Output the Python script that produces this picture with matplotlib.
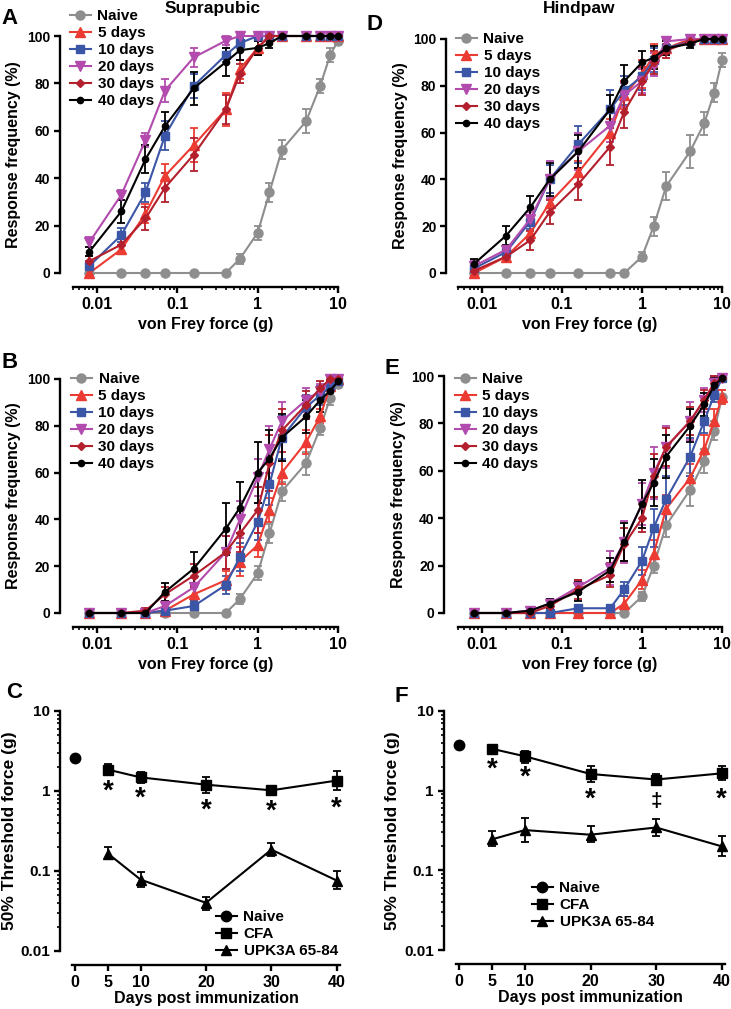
import numpy as np
import matplotlib
matplotlib.use('Agg')
import matplotlib.pyplot as plt
from matplotlib.ticker import NullFormatter, LogLocator, FixedLocator

plt.rcParams['font.family'] = ['Liberation Sans', 'DejaVu Sans']
plt.rcParams['font.weight'] = 'bold'
plt.rcParams['axes.labelweight'] = 'bold'

# von Frey filament forces (g)
force = [0.008, 0.02, 0.04, 0.07, 0.16, 0.4, 0.6, 1, 1.4, 2, 4, 6, 8, 10]
groups = ['Naive', '5 days', '10 days', '20 days', '30 days', '40 days']

# A - suprapubic, mean response frequency (%) and SEM
naive_A = [0, 0, 0, 0, 0, 0, 6, 17, 34, 52, 64, 79, 92, 98]
naive_A_err = [0, 0, 0, 0, 0, 0, 2, 3, 4, 4, 5, 3, 3, 2]
d5_A = [0, 10, 25, 41, 54, 69, 86, 95, 100, 100, 100, 100, 100, 100]
d5_A_err = [1, 2, 4, 5, 7, 7, 4, 3, 0, 0, 0, 0, 0, 0]
d10_A = [3, 16, 34, 58, 79, 92, 97, 100, 100, 100, 100, 100, 100, 100]
d10_A_err = [2, 3, 4, 6, 5, 3, 2, 0, 0, 0, 0, 0, 0, 0]
d20_A = [13, 33, 56, 77, 91, 98, 100, 100, 100, 100, 100, 100, 100, 100]
d20_A_err = [2, 2, 3, 5, 4, 2, 0, 0, 0, 0, 0, 0, 0, 0]
d30_A = [5, 12, 23, 36, 50, 69, 84, 95, 100, 100, 100, 100, 100, 100]
d30_A_err = [2, 3, 5, 6, 7, 6, 4, 3, 0, 0, 0, 0, 0, 0]
d40_A = [9, 26, 48, 62, 78, 89, 94, 95, 97, 100, 100, 100, 100, 100]
d40_A_err = [2, 5, 6, 6, 7, 6, 4, 3, 2, 0, 0, 0, 0, 0]

# D - hindpaw
naive_D = [0, 0, 0, 0, 0, 0, 0, 7, 20, 37, 52, 64, 77, 91]
naive_D_err = [0, 0, 0, 0, 0, 0, 0, 2, 4, 6, 7, 5, 4, 3]
d5_D = [0, 7, 17, 30, 43, 60, 76, 85, 93, 96, 100, 100, 100, 100]
d5_D_err = [1, 2, 3, 4, 5, 6, 6, 6, 5, 3, 1, 0, 0, 0]
d10_D = [2, 9, 22, 40, 55, 70, 78, 84, 91, 96, 99, 100, 100, 100]
d10_D_err = [2, 2, 3, 6, 8, 8, 6, 6, 5, 3, 1, 0, 0, 0]
d20_D = [3, 10, 23, 40, 52, 63, 76, 82, 89, 99, 100, 100, 100, 100]
d20_D_err = [2, 2, 3, 8, 8, 7, 5, 5, 5, 1, 0, 0, 0, 0]
d30_D = [1, 7, 14, 26, 38, 54, 69, 82, 90, 95, 99, 100, 100, 100]
d30_D_err = [1, 2, 4, 5, 7, 8, 7, 6, 5, 3, 1, 0, 0, 0]
d40_D = [4, 16, 28, 40, 52, 70, 82, 90, 92, 96, 98, 100, 100, 100]
d40_D_err = [2, 4, 5, 7, 7, 6, 7, 5, 5, 3, 2, 0, 0, 0]

# B - suprapubic
naive_B = [0, 0, 0, 0, 0, 0, 6, 17, 34, 52, 64, 79, 92, 98]
naive_B_err = [0, 0, 0, 0, 0, 0, 2, 3, 4, 4, 5, 3, 3, 2]
d5_B = [0, 0, 0, 1, 8, 14, 22, 29, 44, 60, 73, 84, 97, 100]
d5_B_err = [0, 0, 0, 1, 3, 4, 6, 5, 5, 5, 5, 3, 2, 0]
d10_B = [0, 0, 0, 1, 3, 12, 24, 39, 55, 75, 88, 93, 97, 99]
d10_B_err = [0, 0, 0, 1, 2, 4, 6, 8, 9, 9, 5, 4, 2, 1]
d20_B = [0, 0, 0, 3, 11, 26, 40, 58, 70, 82, 91, 95, 100, 100]
d20_B_err = [0, 0, 0, 2, 4, 7, 8, 8, 10, 8, 5, 3, 1, 0]
d30_B = [0, 0, 1, 8, 16, 26, 34, 44, 64, 78, 89, 96, 100, 100]
d30_B_err = [0, 0, 1, 3, 5, 7, 8, 10, 12, 9, 6, 3, 1, 0]
d40_B = [0, 0, 0, 9, 19, 36, 45, 60, 66, 75, 84, 91, 95, 99]
d40_B_err = [0, 0, 0, 4, 7, 11, 11, 13, 12, 10, 7, 5, 3, 1]

# E - hindpaw
naive_E = [0, 0, 0, 0, 0, 0, 0, 7, 20, 37, 52, 64, 77, 91]
naive_E_err = [0, 0, 0, 0, 0, 0, 0, 2, 3, 5, 7, 5, 4, 3]
d5_E = [0, 0, 0, 0, 0, 0, 4, 14, 25, 44, 57, 69, 81, 91]
d5_E_err = [0, 0, 0, 0, 0, 0, 3, 4, 6, 6, 6, 6, 5, 3]
d10_E = [0, 0, 0, 0, 2, 2, 10, 22, 36, 48, 66, 81, 92, 99]
d10_E_err = [0, 0, 0, 0, 1, 1, 3, 6, 8, 10, 8, 5, 3, 1]
d20_E = [0, 0, 1, 4, 11, 19, 30, 46, 59, 70, 81, 90, 97, 99]
d20_E_err = [0, 0, 1, 2, 3, 7, 9, 9, 11, 9, 8, 5, 3, 1]
d30_E = [0, 0, 0, 3, 10, 16, 29, 40, 58, 70, 81, 90, 97, 99]
d30_E_err = [0, 0, 0, 2, 4, 5, 7, 6, 9, 8, 6, 4, 3, 1]
d40_E = [0, 0, 1, 4, 9, 18, 30, 46, 55, 66, 79, 88, 96, 99]
d40_E_err = [0, 0, 1, 2, 4, 5, 8, 10, 10, 9, 7, 5, 3, 1]

# C / F - 50% threshold (g)
days = [5, 10, 20, 30, 40]
naive_C, naive_C_err = 2.55, 0.2
cfa_C = [1.85, 1.48, 1.2, 1.02, 1.35]
cfa_C_lo = [1.6, 1.27, 0.95, 0.93, 1.02]
cfa_C_hi = [2.15, 1.75, 1.5, 1.12, 1.8]
upk_C = [0.165, 0.078, 0.04, 0.185, 0.076]
upk_C_lo = [0.14, 0.063, 0.033, 0.155, 0.06]
upk_C_hi = [0.2, 0.098, 0.048, 0.225, 0.1]
stars_C = ['*', '*', '*', '*', '*']
stars_C_y = [0.98, 0.8, 0.57, 0.55, 0.6]

naive_F, naive_F_err = 3.7, 0.3
cfa_F = [3.35, 2.7, 1.62, 1.38, 1.65]
cfa_F_lo = [3.0, 2.25, 1.3, 1.17, 1.35]
cfa_F_hi = [3.75, 3.15, 2.05, 1.62, 2.05]
upk_F = [0.245, 0.32, 0.28, 0.345, 0.2]
upk_F_lo = [0.2, 0.225, 0.225, 0.27, 0.15]
upk_F_hi = [0.31, 0.46, 0.355, 0.44, 0.27]
stars_F = ['*', '*', '*', '\u2021', '*']
stars_F_y = [1.85, 1.44, 0.78, 0.73, 0.78]

styles = [
    dict(color='#8e8e8e', marker='o', ms=6.5),
    dict(color='#ec3b33', marker='^', ms=6.5),
    dict(color='#3b56a6', marker='s', ms=6),
    dict(color='#b24bad', marker='v', ms=6.5),
    dict(color='#b31f2c', marker='D', ms=4.5),
    dict(color='#000000', marker='o', ms=4.5),
]

W, H = 731, 1009
fig = plt.figure(figsize=(W / 100, H / 100), dpi=100)


def rect(x0, y0, x1, y1):
    # pixel box -> figure fraction
    return [x0 / W, 1 - y1 / H, (x1 - x0) / W, (y1 - y0) / H]


def style_axes(ax, left_off, bottom_off):
    for s in ['top', 'right']:
        ax.spines[s].set_visible(False)
    ax.spines['left'].set_position(('outward', left_off))
    ax.spines['bottom'].set_position(('outward', bottom_off))
    for s in ['left', 'bottom']:
        ax.spines[s].set_linewidth(1.7)
    ax.tick_params(which='major', length=4, width=1.7, pad=3)
    ax.tick_params(which='minor', length=2.5, width=1.2)
    ax.tick_params(axis='x', labelsize=11.5)
    ax.tick_params(axis='y', labelsize=10)


def make_legend(ax, handles, labels, legend_xy):
    ax.legend(handles=handles, labels=labels, loc='upper left', frameon=False,
              fontsize=11, bbox_to_anchor=(legend_xy[0] / W, 1 - legend_xy[1] / H),
              bbox_transform=fig.transFigure, borderpad=0, borderaxespad=0,
              handlelength=1.35, handletextpad=0.45, labelspacing=0.2)


def response_panel(ax, series, errs, legend_xy, left_off):
    handles = []
    for vals, err, st in zip(series, errs, styles):
        c = ax.errorbar(force, vals, yerr=err, lw=1.5, elinewidth=1.3, capsize=3,
                        capthick=1.3, clip_on=False, **st)
        for art in c.lines[1] + c.lines[2]:
            art.set_clip_on(False)
        handles.append(c.lines[0])
    ax.set_xscale('log')
    ax.set_xlim(0.005, 10)
    ax.set_ylim(0, 100)
    ax.set_yticks([0, 20, 40, 60, 80, 100])
    ax.xaxis.set_major_locator(FixedLocator([0.01, 0.1, 1, 10]))
    ax.set_xticklabels(['0.01', '0.1', '1', '10'])
    ax.xaxis.set_minor_locator(LogLocator(base=10, subs=np.arange(2, 10)))
    ax.xaxis.set_minor_formatter(NullFormatter())
    style_axes(ax, left_off, 10)
    ax.set_xlabel('von Frey force (g)', fontsize=11.5, labelpad=4)
    ax.set_ylabel('Response frequency (%)', fontsize=11.5, labelpad=4)
    make_legend(ax, handles, groups, legend_xy)


def threshold_panel(ax, naive, naive_err, cfa, cfa_lo, cfa_hi, upk, upk_lo, upk_hi,
                    stars, stars_y, legend_xy, left_off):
    kw = dict(color='black', lw=1.5, elinewidth=1.3, capsize=3, capthick=1.3,
              clip_on=False)
    h1 = ax.errorbar([0], [naive], yerr=[naive_err], marker='o', ms=7.5, **kw)
    h2 = ax.errorbar(days, cfa, yerr=[np.subtract(cfa, cfa_lo), np.subtract(cfa_hi, cfa)],
                     marker='s', ms=7, **kw)
    h3 = ax.errorbar(days, upk, yerr=[np.subtract(upk, upk_lo), np.subtract(upk_hi, upk)],
                     marker='^', ms=7.5, **kw)
    for d, s, y in zip(days, stars, stars_y):
        ax.text(d, y, s, ha='center', va='center', fontsize=20 if s == '*' else 15,
                fontweight='bold')
    ax.set_yscale('log')
    ax.set_ylim(0.01, 10)
    ax.set_xlim(-0.5, 40.5)
    ax.set_xticks([0, 5, 10, 20, 30, 40])
    ax.set_yticks([0.01, 0.1, 1, 10])
    ax.set_yticklabels(['0.01', '0.1', '1', '10'])
    ax.yaxis.set_minor_locator(LogLocator(base=10, subs=np.arange(2, 10)))
    ax.yaxis.set_minor_formatter(NullFormatter())
    style_axes(ax, left_off, 10)
    ax.tick_params(axis='y', labelsize=11)
    ax.set_xlabel('Days post immunization', fontsize=11.5, labelpad=1)
    ax.set_ylabel('50% Threshold force (g)', fontsize=12.5, labelpad=3)
    make_legend(ax, [h1.lines[0], h2.lines[0], h3.lines[0]],
                ['Naive', 'CFA', 'UPK3A 65-84'], legend_xy)


axA = fig.add_axes(rect(73, 36, 338, 273))
response_panel(axA, [naive_A, d5_A, d10_A, d20_A, d30_A, d40_A],
               [naive_A_err, d5_A_err, d10_A_err, d20_A_err, d30_A_err, d40_A_err],
               (70, 9), 9.5)
axD = fig.add_axes(rect(458, 39, 722, 273))
response_panel(axD, [naive_D, d5_D, d10_D, d20_D, d30_D, d40_D],
               [naive_D_err, d5_D_err, d10_D_err, d20_D_err, d30_D_err, d40_D_err],
               (456, 32), 8.5)
axB = fig.add_axes(rect(73, 379, 338, 613))
response_panel(axB, [naive_B, d5_B, d10_B, d20_B, d30_B, d40_B],
               [naive_B_err, d5_B_err, d10_B_err, d20_B_err, d30_B_err, d40_B_err],
               (71, 372), 9.5)
axE = fig.add_axes(rect(458, 376, 722, 613))
response_panel(axE, [naive_E, d5_E, d10_E, d20_E, d30_E, d40_E],
               [naive_E_err, d5_E_err, d10_E_err, d20_E_err, d30_E_err, d40_E_err],
               (455, 372), 10)

axC = fig.add_axes(rect(72, 711, 340, 951))
threshold_panel(axC, naive_C, naive_C_err, cfa_C, cfa_C_lo, cfa_C_hi, upk_C, upk_C_lo,
                upk_C_hi, stars_C, stars_C_y, (216, 910), 8.5)
axF = fig.add_axes(rect(456, 711, 725, 950))
threshold_panel(axF, naive_F, naive_F_err, cfa_F, cfa_F_lo, cfa_F_hi, upk_F, upk_F_lo,
                upk_F_hi, stars_F, stars_F_y, (532, 881), 9)

# titles and panel letters
fig.text(213 / W, 1 - 8 / H, 'Suprapubic', ha='center', va='center', fontsize=12.5)
fig.text(579 / W, 1 - 8 / H, 'Hindpaw', ha='center', va='center', fontsize=12.5)
for letter, x, y in [('A', 10, 19), ('D', 375, 24), ('B', 10, 362),
                     ('E', 392, 368), ('C', 14, 693), ('F', 401, 696)]:
    fig.text(x / W, 1 - y / H, letter, ha='center', va='center', fontsize=16)

fig.savefig('out.png', dpi=100)
